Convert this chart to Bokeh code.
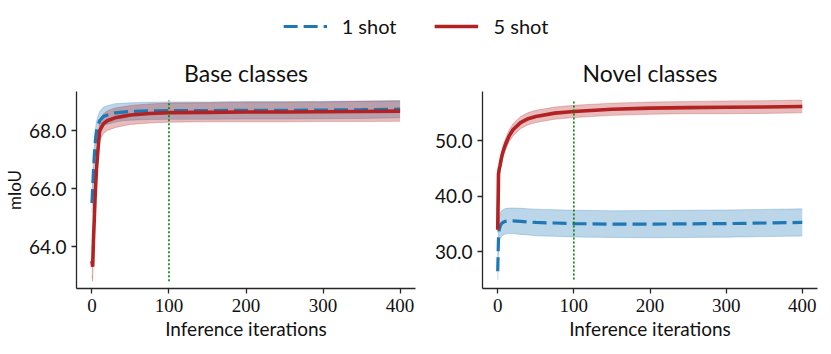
from bokeh.plotting import figure
from bokeh.layouts import column, row
from bokeh.models import (FixedTicker, PrintfTickFormatter, Legend, LegendItem,
                          ColumnDataSource, Range1d)
from bokeh.embed import file_html
from bokeh.resources import INLINE
import numpy as np

# ---------------- data ----------------
iters = [0, 1, 2, 3, 4, 5, 6, 8, 10, 15, 20, 30, 40, 50, 75, 100, 150, 200, 250, 300, 350, 400]

base_1shot_mean = [65.5, 66.0, 66.6, 67.1, 67.5, 67.8, 68.0, 68.2, 68.35, 68.5, 68.55, 68.62, 68.65,
                   68.67, 68.69, 68.70, 68.70, 68.71, 68.71, 68.72, 68.73, 68.75]
base_1shot_std = [0.35, 0.35, 0.35, 0.35, 0.35, 0.35, 0.33, 0.32, 0.32, 0.32, 0.32, 0.32, 0.3,
                  0.3, 0.3, 0.3, 0.3, 0.3, 0.3, 0.3, 0.3, 0.3]
base_5shot_mean = [63.5, 63.3, 64.2, 64.9, 65.6, 66.2, 66.7, 67.4, 68.0, 68.25, 68.35, 68.45, 68.5,
                   68.55, 68.6, 68.63, 68.64, 68.65, 68.65, 68.66, 68.67, 68.68]
base_5shot_std = [0.5, 0.5, 0.45, 0.42, 0.4, 0.38, 0.36, 0.35, 0.34, 0.34, 0.34, 0.34, 0.33,
                  0.33, 0.33, 0.33, 0.33, 0.34, 0.34, 0.34, 0.35, 0.35]

novel_1shot_mean = [26.5, 32.5, 34.0, 34.5, 34.9, 35.1, 35.2, 35.4, 35.5, 35.6, 35.6, 35.5, 35.4,
                    35.3, 35.2, 35.1, 35.0, 35.0, 35.05, 35.1, 35.2, 35.3]
novel_1shot_std = [1.5, 1.8, 2.0, 2.2, 2.3, 2.3, 2.3, 2.3, 2.3, 2.3, 2.3, 2.35, 2.35,
                   2.4, 2.4, 2.4, 2.4, 2.45, 2.45, 2.45, 2.45, 2.45]
novel_5shot_mean = [34.0, 44.0, 45.0, 45.5, 46.3, 47.0, 47.6, 48.5, 49.3, 50.9, 52.0, 53.3, 54.0,
                    54.4, 55.0, 55.3, 55.7, 55.9, 56.0, 56.05, 56.1, 56.2]
novel_5shot_std = [0.5, 0.8, 1.0, 1.0, 1.0, 1.0, 1.0, 1.0, 1.05, 1.05, 1.1, 1.1, 1.1,
                   1.1, 1.1, 1.1, 1.1, 1.1, 1.1, 1.15, 1.15, 1.15]

base_yticks = [64, 66, 68]
novel_yticks = [30, 40, 50]
xticks = [0, 100, 200, 300, 400]
chosen_iter = 100
labels = ["1 shot", "5 shot"]

BLUE = "#1f77b4"
RED = "#b22222"
SANS = "Lato"
SERIF = "Liberation Serif"
AX = "#262626"


def make_panel(title, yr, fw, fh, mbl, mbr, mbt, mbb, yticks, series, ylabel=None):
    p = figure(output_backend="svg", toolbar_location=None, frame_width=fw, frame_height=fh,
               x_range=Range1d(-20, 420), y_range=Range1d(*yr),
               min_border_left=mbl, min_border_right=mbr, min_border_top=mbt, min_border_bottom=mbb)
    p.outline_line_color = None
    p.xgrid.visible = False
    p.ygrid.visible = False
    p.title.text = title
    p.title.align = "center"
    p.title.text_font = SANS
    p.title.text_font_style = "normal"
    p.title.text_font_size = "23px"
    p.title.text_color = "#111111"

    lo_all, hi_all = [], []
    for mean, std, color, dash in series:
        m = np.array(mean)
        s = np.array(std)
        lo, hi = m - s, m + s
        lo_all.append(lo.min())
        hi_all.append(hi.max())
        src = ColumnDataSource(dict(x=iters, m=m, lo=lo, hi=hi))
        p.varea(x="x", y1="lo", y2="hi", source=src, fill_color=color, fill_alpha=0.3)
        p.line(x="x", y="lo", source=src, line_color=color, line_alpha=0.25, line_width=1)
        p.line(x="x", y="hi", source=src, line_color=color, line_alpha=0.25, line_width=1)
    for mean, std, color, dash in series:
        src = ColumnDataSource(dict(x=iters, m=mean))
        if dash:
            p.line(x="x", y="m", source=src, line_color=color, line_width=3.2, line_dash="14 6")
        else:
            p.line(x="x", y="m", source=src, line_color=color, line_width=3.6)

    p.segment(x0=[chosen_iter], y0=[min(lo_all)], x1=[chosen_iter], y1=[max(hi_all)],
              line_color="green", line_width=1.6, line_dash="2 2")

    for ax in (p.xaxis[0], p.yaxis[0]):
        ax.axis_line_color = AX
        ax.axis_line_width = 1.3
        ax.major_tick_line_color = AX
        ax.major_tick_line_width = 1.3
        ax.major_tick_out = 5
        ax.major_tick_in = 0
        ax.minor_tick_line_color = None
        ax.major_label_text_color = "#111111"
        ax.major_label_standoff = 5
    p.xaxis.ticker = FixedTicker(ticks=xticks)
    p.xaxis.major_label_text_font = SERIF
    p.xaxis.major_label_text_font_size = "19px"
    p.xaxis.axis_label = "Inference iterations"
    p.xaxis.axis_label_text_font = SANS
    p.xaxis.axis_label_text_font_style = "normal"
    p.xaxis.axis_label_text_font_size = "19px"
    p.xaxis.axis_label_text_color = "#111111"
    p.xaxis.axis_label_standoff = 2
    p.yaxis.ticker = FixedTicker(ticks=yticks)
    p.yaxis.formatter = PrintfTickFormatter(format="%.1f")
    p.yaxis.major_label_text_font = SANS
    p.yaxis.major_label_text_font_size = "19px"
    if ylabel:
        p.yaxis.axis_label = ylabel
        p.yaxis.axis_label_text_font = SANS
        p.yaxis.axis_label_text_font_style = "normal"
        p.yaxis.axis_label_text_font_size = "17px"
        p.yaxis.axis_label_text_color = "#111111"
        p.yaxis.axis_label_standoff = 1
    return p


p1 = make_panel("Base classes", (62.55, 69.36), 339, 197, 72, 16, 46, 50, base_yticks,
                [(base_1shot_mean, base_1shot_std, BLUE, True),
                 (base_5shot_mean, base_5shot_std, RED, False)], ylabel="mIoU")
p2 = make_panel("Novel classes", (23.4, 58.9), 335, 197, 50, 3, 46, 50, novel_yticks,
                [(novel_1shot_mean, novel_1shot_std, BLUE, True),
                 (novel_5shot_mean, novel_5shot_std, RED, False)])

# legend strip (glyphs drawn outside the visible range; only their legend entries show)
lf = figure(output_backend="svg", toolbar_location=None, width=815, height=45,
            x_range=Range1d(0, 1), y_range=Range1d(0, 1),
            min_border_left=16, min_border_right=0, min_border_top=7, min_border_bottom=0)
lf.outline_line_color = None
lf.xaxis.visible = False
lf.yaxis.visible = False
lf.xgrid.visible = False
lf.ygrid.visible = False
r1 = lf.line(x=[5, 6], y=[5, 6], line_color=BLUE, line_width=3.2, line_dash="14 6")
r2 = lf.line(x=[5, 6], y=[5, 6], line_color=RED, line_width=3.6)
leg = Legend(items=[LegendItem(label=labels[0], renderers=[r1]),
                    LegendItem(label=labels[1], renderers=[r2])],
             orientation="horizontal", location="center", glyph_width=44, label_standoff=15,
             spacing=38, border_line_color=None, background_fill_alpha=0,
             label_text_font=SANS, label_text_font_size="20px", label_text_color="#111111",
             padding=0, margin=0)
lf.add_layout(leg)

layout = column(lf, row(p1, p2))
open("out.html", "w").write(file_html(layout, INLINE))
